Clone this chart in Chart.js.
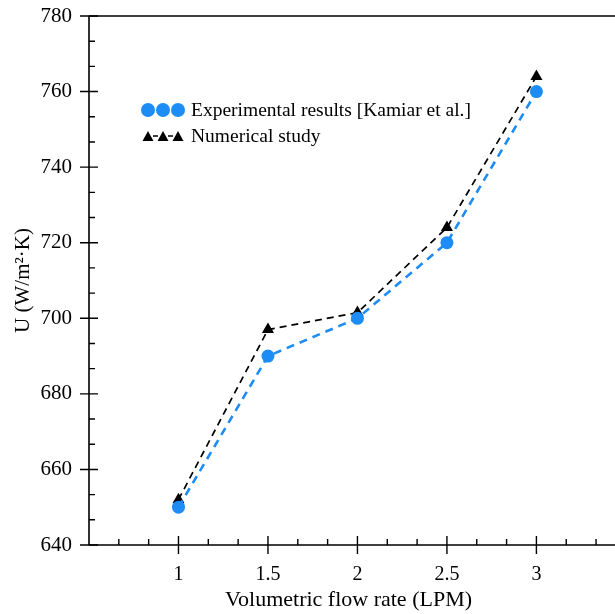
<!DOCTYPE html>
<html>
<head>
<meta charset="utf-8">
<script src="https://cdn.jsdelivr.net/npm/chart.js@4"></script>
<style>
  html, body { margin: 0; padding: 0; background: #fff; }
  #uChart { display: block; }
</style>
</head>
<body>
<canvas id="uChart" width="615" height="614"></canvas>
<script>
// Datos del gráfico
const flowRates = [1, 1.5, 2, 2.5, 3];
const experimental = [650, 690, 700, 720, 760];
const numerical = [652, 697, 701.5, 724, 764];
const xTicks = [1, 1.5, 2, 2.5, 3];
const yTicks = [640, 660, 680, 700, 720, 740, 760, 780];
const seriesNames = ['Experimental results [Kamiar et al.]', 'Numerical study'];

const BLUE = '#1e8cf5';
const SERIF = '"Liberation Serif", "Times New Roman", serif';

// Ejes con marcas mayores y menores dibujados a mano
const axesPlugin = {
    id: 'axesPlugin',
    afterDraw(chart) {
        const ctx = chart.ctx;
        const a = chart.chartArea;
        const xs = chart.scales.x, ys = chart.scales.y;
        ctx.save();
        ctx.strokeStyle = '#000';
        ctx.lineWidth = 1.6;
        ctx.beginPath();
        ctx.moveTo(a.left, a.top); ctx.lineTo(a.left, a.bottom);
        ctx.moveTo(a.left, a.bottom); ctx.lineTo(chart.width, a.bottom);
        ctx.moveTo(a.left, a.top); ctx.lineTo(chart.width, a.top);
        ctx.stroke();

        ctx.lineWidth = 1.4;
        ctx.beginPath();
        yTicks.forEach(v => {
            const y = ys.getPixelForValue(v);
            ctx.moveTo(a.left - 9, y); ctx.lineTo(a.left + 9, y);
        });
        for (let i = 0; i < yTicks.length - 1; i++) {
            for (let k = 1; k < 3; k++) {
                const y = ys.getPixelForValue(yTicks[i] + k * 20 / 3);
                ctx.moveTo(a.left, y); ctx.lineTo(a.left + 6, y);
            }
        }
        xTicks.forEach(v => {
            const x = xs.getPixelForValue(v);
            ctx.moveTo(x, a.bottom - 9); ctx.lineTo(x, a.bottom + 9);
        });
        const minorX = [0.5].concat(xTicks);
        for (let i = 0; i < minorX.length; i++) {
            for (let k = 1; k < 3; k++) {
                const v = minorX[i] + k * 0.5 / 3;
                if (v > xs.max) continue;
                const x = xs.getPixelForValue(v);
                ctx.moveTo(x, a.bottom); ctx.lineTo(x, a.bottom - 6);
            }
        }
        ctx.stroke();
        ctx.restore();
    }
};

// Leyenda dentro del área del gráfico
const legendPlugin = {
    id: 'insideLegend',
    afterDatasetsDraw(chart) {
        const ctx = chart.ctx;
        const ds = chart.data.datasets;
        ctx.save();
        ctx.font = '19.5px ' + SERIF;
        ctx.textBaseline = 'middle';
        // círculos azules
        ctx.fillStyle = ds[0].pointBackgroundColor;
        [148, 163, 178].forEach(x => {
            ctx.beginPath(); ctx.arc(x, 110, 7, 0, Math.PI * 2); ctx.fill();
        });
        ctx.fillStyle = '#000';
        ctx.fillText(ds[0].label, 191, 111);
        // triángulos negros
        ctx.strokeStyle = '#000';
        ctx.lineWidth = 1.3;
        ctx.beginPath();
        ctx.moveTo(153, 136); ctx.lineTo(158, 136);
        ctx.moveTo(168, 136); ctx.lineTo(173, 136);
        ctx.stroke();
        [148, 163, 178].forEach(x => {
            ctx.beginPath();
            ctx.moveTo(x, 131); ctx.lineTo(x + 5.5, 141); ctx.lineTo(x - 5.5, 141);
            ctx.closePath(); ctx.fill();
        });
        ctx.fillText(ds[1].label, 191, 137);
        ctx.restore();
    }
};

document.addEventListener('DOMContentLoaded', function() {
    const ctx = document.getElementById('uChart').getContext('2d');
    new Chart(ctx, {
        type: 'line',
        data: {
            datasets: [{
                label: seriesNames[0],
                data: flowRates.map((x, i) => ({ x: x, y: experimental[i] })),
                borderColor: BLUE,
                borderWidth: 2.6,
                borderDash: [8, 6],
                pointStyle: 'circle',
                pointRadius: 6.5,
                pointBackgroundColor: BLUE,
                pointBorderWidth: 0,
                tension: 0
            }, {
                label: seriesNames[1],
                data: flowRates.map((x, i) => ({ x: x, y: numerical[i] })),
                borderColor: '#000',
                borderWidth: 1.7,
                borderDash: [7, 5],
                pointStyle: 'triangle',
                pointRadius: 7,
                pointBackgroundColor: '#000',
                pointBorderWidth: 0,
                tension: 0
            }]
        },
        options: {
            responsive: false,
            animation: false,
            devicePixelRatio: 1,
            layout: { padding: 0 },
            plugins: {
                legend: { display: false },
                tooltip: { enabled: false }
            },
            scales: {
                x: {
                    type: 'linear',
                    min: 0.5,
                    max: 3.4,
                    grid: { display: false },
                    border: { display: false },
                    afterBuildTicks: s => { s.ticks = xTicks.map(v => ({ value: v })); },
                    afterFit: s => { s.height = 69; },
                    ticks: {
                        padding: 10,
                        color: '#000',
                        font: { family: SERIF, size: 20 },
                        callback: v => String(v)
                    },
                    title: {
                        display: true,
                        text: 'Volumetric flow rate (LPM)',
                        color: '#000',
                        font: { family: SERIF, size: 22 },
                        padding: { top: 0, bottom: 1 }
                    }
                },
                y: {
                    min: 640,
                    max: 780,
                    grid: { display: false },
                    border: { display: false },
                    afterBuildTicks: s => { s.ticks = yTicks.map(v => ({ value: v })); },
                    afterFit: s => { s.width = 89; s.paddingTop = 16; s.paddingBottom = 0; },
                    ticks: {
                        padding: 9,
                        color: '#000',
                        font: { family: SERIF, size: 21 }
                    },
                    title: {
                        display: true,
                        text: 'U (W/m²·K)',
                        color: '#000',
                        font: { family: SERIF, size: 21 },
                        padding: { top: 11, bottom: 0 }
                    }
                }
            }
        },
        plugins: [axesPlugin, legendPlugin]
    });
});
</script>
</body>
</html>
